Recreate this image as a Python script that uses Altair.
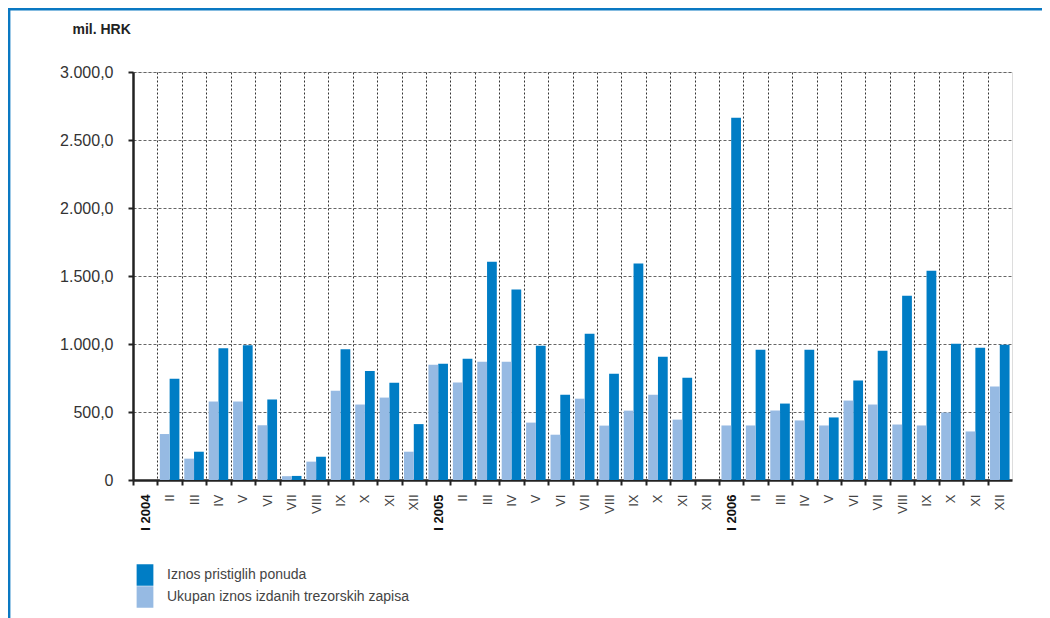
import altair as alt
import pandas as pd

labels = ["I 2004", "II", "III", "IV", "V", "VI", "VII", "VIII", "IX", "X", "XI", "XII",
          "I 2005", "II", "III", "IV", "V", "VI", "VII", "VIII", "IX", "X", "XI", "XII",
          "I 2006", "II", "III", "IV", "V", "VI", "VII", "VIII", "IX", "X", "XI", "XII"]

ponude = [None, 744, 208, 968, 990, 592, 30, 171, 961, 802, 715, 411,
          855, 892, 1605, 1400, 988, 627, 1076, 782, 1591, 907, 752, None,
          2664, 958, 562, 958, 460, 731, 951, 1355, 1539, 1002, 973, 995]

izdani = [None, 338, 157, 577, 577, 403, 28, 135, 657, 555, 606, 208,
          848, 716, 870, 870, 422, 333, 598, 400, 510, 627, 444, None,
          401, 401, 511, 438, 401, 584, 555, 408, 401, 496, 357, 687]

series = ["Iznos pristiglih ponuda", "Ukupan iznos izdanih trezorskih zapisa"]
colors = ["#007DC5", "#96BAE3"]

keys = [f"{i:02d}|{lab}" for i, lab in enumerate(labels)]
rows = []
for k, p, z in zip(keys, ponude, izdani):
    if p is not None:
        rows.append({"key": k, "serija": series[0], "amount": p})
    if z is not None:
        rows.append({"key": k, "serija": series[1], "amount": z})
df = pd.DataFrame(rows)

FONT = "Liberation Sans"
W, H = 879, 408
half_step = W / len(keys) / 2

y_label_expr = ("datum.value == 0 ? '0' : "
                "replace(replace(replace(format(datum.value, ',.1f'), ',', '#'), '.', ','), '#', '.')")
is_year = "test(/ 20/, datum.value)"

bars = alt.Chart(df).mark_bar().encode(
    x=alt.X("key:N",
            scale=alt.Scale(domain=keys, paddingInner=0.2, paddingOuter=0.1),
            axis=alt.Axis(title=None, labelAngle=-90,
                          tickOffset=-half_step, labelOffset=half_step,
                          labelExpr="split(datum.value, '|')[1]",
                          labelFontWeight={"condition": {"test": is_year, "value": "bold"}, "value": "normal"},
                          labelColor={"condition": {"test": is_year, "value": "#111111"}, "value": "#444444"},
                          labelFontSize=13, labelFont=FONT, labelPadding=9,
                          domainColor="#222", domainWidth=2.5,
                          tickColor="#222", tickWidth=2, tickSize=5,
                          grid=True, gridColor="#333", gridDash=[2, 2], gridWidth=1)),
    xOffset=alt.XOffset("serija:N", sort=[series[1], series[0]]),
    y=alt.Y("amount:Q",
            scale=alt.Scale(domain=[0, 3000], nice=False),
            axis=alt.Axis(values=[0, 500, 1000, 1500, 2000, 2500, 3000],
                          labelExpr=y_label_expr,
                          labelFont=FONT, labelFontSize=16,
                          labelColor="#333", labelPadding=15,
                          domainColor="#222", domainWidth=2.5,
                          tickColor="#222", tickWidth=2, tickSize=5,
                          grid=True, gridColor="#666", gridDash=[3, 2], gridWidth=1.2,
                          title="mil. HRK", titleAngle=0, titleX=-61, titleY=-43,
                          titleAlign="left", titleBaseline="middle",
                          titleFont=FONT, titleFontSize=14, titleFontWeight="bold",
                          titleColor="#222")),
    color=alt.Color("serija:N",
                    scale=alt.Scale(domain=series, range=colors),
                    legend=alt.Legend(title=None, orient="none", legendX=1, legendY=492,
                                      direction="vertical",
                                      symbolType="M-0.78,-1H0.78V1H-0.78Z",
                                      symbolSize=462, symbolStrokeWidth=0,
                                      labelFont=FONT, labelFontSize=14, labelColor="#444",
                                      labelLimit=500,
                                      labelOffset=11, rowPadding=0, padding=0)),
)

frame_src = alt.Chart(pd.DataFrame({"a": [0]}))
frame_left = frame_src.mark_rule(color="#0A78C2", strokeWidth=2.4).encode(
    x=alt.value(-123.8), y=alt.value(-64), y2=alt.value(546))
frame_top = frame_src.mark_rule(color="#0A78C2", strokeWidth=2.4).encode(
    y=alt.value(-62.8), x=alt.value(-125), x2=alt.value(909))

chart = alt.layer(bars, frame_left, frame_top).properties(
    width=W, height=H,
    autosize=alt.AutoSizeParams(type="none"),
    padding={"left": 125, "top": 64, "right": 30, "bottom": 138},
).configure_view(stroke="#333", strokeDash=[2, 2], strokeWidth=1).configure(background="white")

chart.save("out.html", embed_options={"renderer": "svg", "actions": False})
